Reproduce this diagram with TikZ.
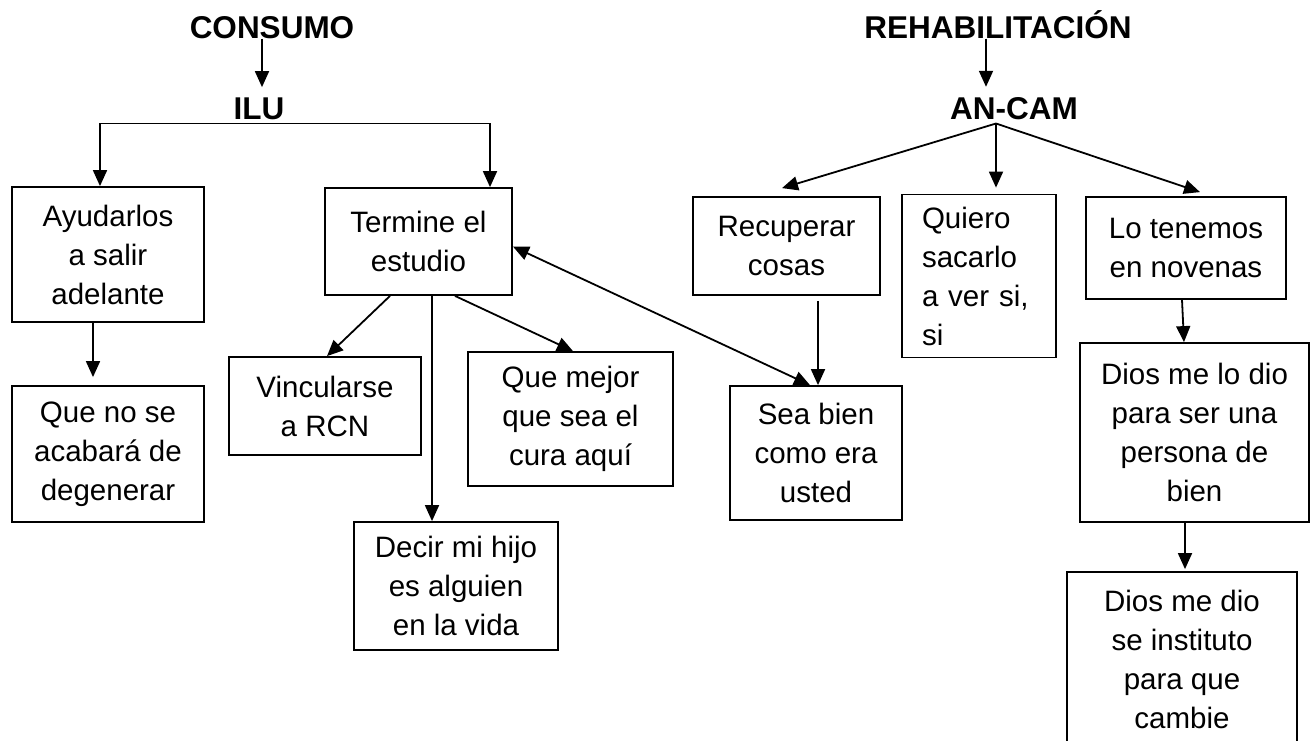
\documentclass[tikz,border=0pt]{standalone}
\usepackage{fontspec}
\setmainfont{Liberation Sans}
\usetikzlibrary{arrows.meta}

\begin{document}
\begin{tikzpicture}[x=1pt,y=-1pt,
caja/.style={draw, line width=1.8pt, align=center, inner sep=0pt, font=\fontsize{29.5}{39}\selectfont},
titulo/.style={inner sep=0pt, anchor=base, font=\fontsize{31.5}{36}\selectfont\bfseries},
flecha/.style={line width=1.8pt, -{Triangle[length=16pt,width=14pt]}},
doble/.style={line width=1.8pt, {Triangle[length=16pt,width=14pt]}-{Triangle[length=16pt,width=14pt]}}]

\useasboundingbox (0,0) rectangle (1316,740);
\clip (0,0) rectangle (1316,740);

% titulos
\node[titulo] (consumo) at (272,38) {CONSUMO};
\node[titulo] (ilu) at (259,119) {ILU};
\node[titulo] (rehab) at (998,38) {REHABILITACIÓN};
\node[titulo] (ancam) at (1014,119) {AN-CAM};

% consumo
\node[caja, minimum width=192, minimum height=135] (ayud) at (108,254.5) {Ayudarlos\\a salir\\adelante};
\node[caja, minimum width=192, minimum height=136] (queno) at (108,454) {Que no se\\acabará de\\degenerar};
\node[caja, minimum width=187, minimum height=107] (term) at (418.5,241.5) {Termine el\\estudio};
\node[caja, minimum width=192, minimum height=98] (vinc) at (325,406) {Vincularse\\a RCN};
\node[caja, minimum width=204, minimum height=128] (decir) at (456,586) {Decir mi hijo\\es alguien\\en la vida};
\node[caja, minimum width=205, minimum height=134] (mejor) at (570.5,419) {Que mejor\\que sea el\\cura aquí};

% rehabilitacion
\node[caja, minimum width=187, minimum height=98] (rec) at (786.5,246) {Recuperar\\cosas};
\node[caja, minimum width=172, minimum height=134] (sea) at (816,453) {Sea bien\\como era\\usted};
\node[caja, align=left, text width=114, inner xsep=20, minimum height=163] (quiero) at (979,276) {Quiero\\sacarlo\\a ver si,\\si};
\node[caja, minimum width=200, minimum height=102] (lo) at (1186,248) {Lo tenemos\\en novenas};
\node[caja, minimum width=229, minimum height=179] (dios1) at (1194.5,432.5) {Dios me lo dio\\para ser una\\persona de\\bien};
\node[caja, minimum width=230, minimum height=175] (dios2) at (1182,659.5) {Dios me dio\\se instituto\\para que\\cambie};

% flechas izquierda
\draw[flecha] ([xshift=-10pt]consumo.south) -- ([xshift=3pt,yshift=10pt]ilu.north);
\coordinate (t) at ([yshift=-4pt]ilu.south);
\draw[flecha] (t) -| ([xshift=-8pt]ayud.north);
\draw[flecha] (t) -| ([xshift=71.5pt]term.north);
\draw[flecha] ([xshift=-15pt]ayud.south) -- ([xshift=-15pt,yshift=8pt]queno.north);
\draw[flecha] ([xshift=-28.5pt]term.south) -- ([xshift=2pt]vinc.north);
\draw[flecha] ([xshift=13.5pt]term.south) -- ([xshift=-24pt]decir.north);
\draw[flecha] ([xshift=36.5pt]term.south) -- ([xshift=2.5pt]mejor.north);
\draw[doble] ([yshift=-5pt]term.east) -- ([xshift=-6pt]sea.north);

% flechas derecha
\draw[flecha] ([xshift=-12pt]rehab.south) -- ([xshift=-28pt,yshift=10pt]ancam.north);
\coordinate (a) at ([xshift=-18pt,yshift=-4pt]ancam.south);
\draw[flecha] (a) -- ([xshift=-4.5pt,yshift=8pt]rec.north);
\draw[flecha] (a) -- ([xshift=17pt,yshift=6pt]quiero.north);
\draw[flecha] (a) -- ([xshift=14pt,yshift=4pt]lo.north);
\draw[flecha] ([xshift=31.5pt,yshift=-5pt]rec.south) -- ([xshift=2pt]sea.north);
\draw[flecha] ([xshift=-4pt]lo.south) -- ([xshift=-10.5pt]dios1.north);
\draw[flecha] ([xshift=-9.5pt]dios1.south) -- ([xshift=3pt,yshift=2pt]dios2.north);

\end{tikzpicture}
\end{document}
